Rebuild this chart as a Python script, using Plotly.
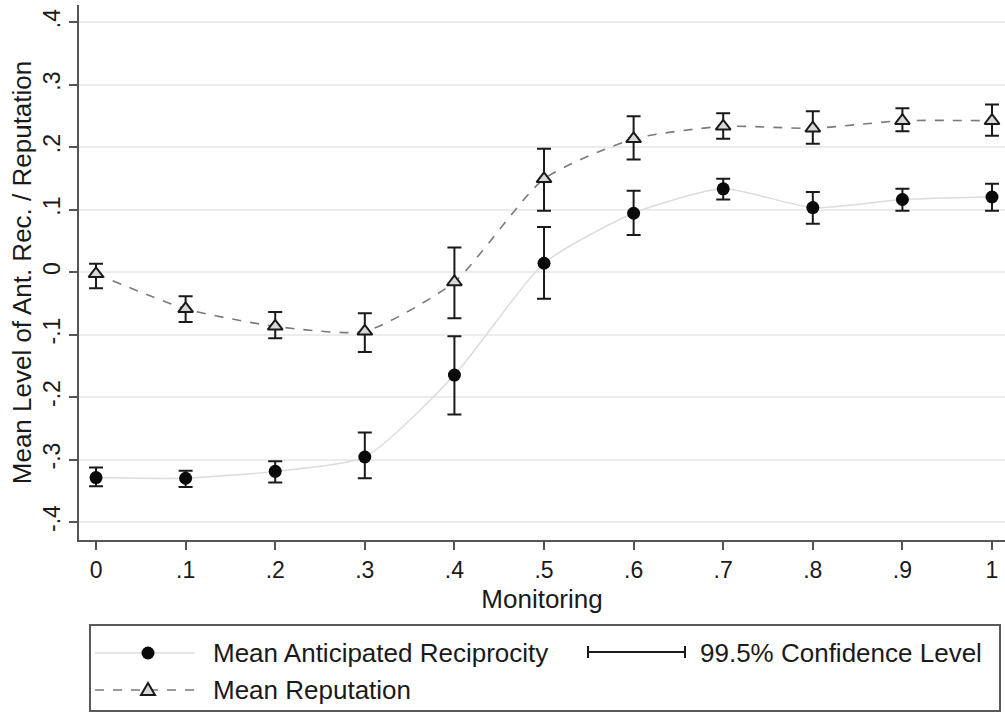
import plotly.graph_objects as go

# ---- data ----
monitoring = [0, 0.1, 0.2, 0.3, 0.4, 0.5, 0.6, 0.7, 0.8, 0.9, 1.0]

recip_mean = [-0.329, -0.330, -0.319, -0.296, -0.165, 0.014, 0.094, 0.133, 0.103, 0.116, 0.120]
recip_lo = [-0.343, -0.344, -0.337, -0.330, -0.228, -0.043, 0.059, 0.116, 0.077, 0.098, 0.098]
recip_hi = [-0.313, -0.318, -0.303, -0.257, -0.103, 0.072, 0.130, 0.149, 0.128, 0.133, 0.141]

rep_mean = [-0.003, -0.059, -0.087, -0.095, -0.016, 0.149, 0.213, 0.233, 0.230, 0.242, 0.242]
rep_lo = [-0.026, -0.080, -0.106, -0.128, -0.074, 0.098, 0.180, 0.213, 0.205, 0.225, 0.218]
rep_hi = [0.013, -0.039, -0.064, -0.066, 0.039, 0.197, 0.249, 0.254, 0.257, 0.262, 0.268]

x_tickvals = [0, 0.1, 0.2, 0.3, 0.4, 0.5, 0.6, 0.7, 0.8, 0.9, 1.0]
x_ticktext = ["0", ".1", ".2", ".3", ".4", ".5", ".6", ".7", ".8", ".9", "1"]
y_tickvals = [-0.4, -0.3, -0.2, -0.1, 0, 0.1, 0.2, 0.3, 0.4]
y_ticktext = ["-.4", "-.3", "-.2", "-.1", "0", ".1", ".2", ".3", ".4"]

legend_labels = ["Mean Anticipated Reciprocity", "99.5% Confidence Level", "Mean Reputation"]

FONT = "Liberation Sans, Arial, Helvetica, sans-serif"
W, H = 1005, 717
ML, MR, MT, MB = 79, 0, 5, 177

fig = go.Figure()

err_style = dict(color="#1a1a1a", thickness=2, width=7)

fig.add_trace(go.Scatter(
    x=monitoring, y=recip_mean, mode="lines+markers",
    line=dict(color="#dcdcdc", width=1.5, shape="spline", smoothing=0.6),
    marker=dict(symbol="circle", size=13, color="#0a0a0a"),
    error_y=dict(type="data", symmetric=False,
                 array=[h - m for h, m in zip(recip_hi, recip_mean)],
                 arrayminus=[m - l for m, l in zip(recip_mean, recip_lo)],
                 **err_style),
    name=legend_labels[0], showlegend=False,
))

fig.add_trace(go.Scatter(
    x=monitoring, y=rep_mean, mode="lines+markers",
    line=dict(color="#7a7a7a", width=1.6, dash="dash", shape="spline", smoothing=0.6),
    marker=dict(symbol="triangle-up", size=13, color="#d8d8d8",
                line=dict(color="#1a1a1a", width=2)),
    error_y=dict(type="data", symmetric=False,
                 array=[h - m for h, m in zip(rep_hi, rep_mean)],
                 arrayminus=[m - l for m, l in zip(rep_mean, rep_lo)],
                 **err_style),
    name=legend_labels[2], showlegend=False,
))

# ---- pixel -> paper helpers for the hand-drawn legend ----
PW = W - ML - MR
PH = H - MT - MB


def px(xp):
    return (xp - ML) / PW


def py(yp):
    return (H - MB - yp) / PH


shapes = []
annotations = []

# legend box
shapes.append(dict(type="rect", xref="paper", yref="paper",
                   x0=px(90), x1=px(1000), y0=py(711), y1=py(625),
                   line=dict(color="#5a5a5a", width=2), fillcolor="white", layer="below"))

row1, row2 = 653, 690
# reciprocity symbol
shapes.append(dict(type="line", xref="paper", yref="paper",
                   x0=px(95), x1=px(195), y0=py(row1), y1=py(row1),
                   line=dict(color="#dcdcdc", width=1.5)))
shapes.append(dict(type="circle", xref="paper", yref="paper",
                   x0=px(148 - 6.5), x1=px(148 + 6.5), y0=py(row1 + 6.5), y1=py(row1 - 6.5),
                   fillcolor="#0a0a0a", line=dict(color="#0a0a0a", width=0)))
# reputation symbol
shapes.append(dict(type="line", xref="paper", yref="paper",
                   x0=px(95), x1=px(195), y0=py(row2), y1=py(row2),
                   line=dict(color="#7a7a7a", width=1.6, dash="dash")))
tri = "M {} {} L {} {} L {} {} Z".format(px(141), py(row2 + 5), px(155), py(row2 + 5),
                                         px(148), py(row2 - 7))
shapes.append(dict(type="path", xref="paper", yref="paper", path=tri,
                   fillcolor="#d8d8d8", line=dict(color="#1a1a1a", width=2)))
# confidence-interval symbol
shapes.append(dict(type="line", xref="paper", yref="paper",
                   x0=px(588), x1=px(685), y0=py(652), y1=py(652),
                   line=dict(color="#1a1a1a", width=2)))
for xc in (588, 685):
    shapes.append(dict(type="line", xref="paper", yref="paper",
                       x0=px(xc), x1=px(xc), y0=py(646), y1=py(658),
                       line=dict(color="#1a1a1a", width=2)))

for text, xp, yp in [(legend_labels[0], 211, row1), (legend_labels[1], 698, row1),
                     (legend_labels[2], 211, row2)]:
    annotations.append(dict(text=text, xref="paper", yref="paper", x=px(xp), y=py(yp),
                            xanchor="left", yanchor="middle", showarrow=False,
                            font=dict(family=FONT, size=26, color="#1a1a1a")))

fig.update_layout(
    width=W, height=H,
    margin=dict(l=ML, r=MR, t=MT, b=MB, autoexpand=False),
    paper_bgcolor="white", plot_bgcolor="white",
    font=dict(family=FONT, color="#1a1a1a"),
    showlegend=False,
    shapes=shapes, annotations=annotations,
    xaxis=dict(range=[-0.019, 1.0145], tickvals=x_tickvals, ticktext=x_ticktext,
               automargin=False,
               showgrid=False, zeroline=False, showline=True, linecolor="#555", linewidth=2,
               ticks="outside", ticklen=8, tickwidth=1.5, tickcolor="#555",
               tickfont=dict(size=23, family=FONT),
               title=dict(text="Monitoring", font=dict(size=26, family=FONT), standoff=8)),
    yaxis=dict(range=[-0.4288, 0.4272], tickvals=y_tickvals, ticktext=y_ticktext,
               tickangle=-90, automargin=False,
               showgrid=True, gridcolor="#ececec", gridwidth=1.5,
               zeroline=False, showline=True, linecolor="#555", linewidth=2,
               ticks="outside", ticklen=8, tickwidth=1.5, tickcolor="#555",
               tickfont=dict(size=23, family=FONT),
               title=dict(text="Mean Level of Ant. Rec. / Reputation",
                          font=dict(size=26, family=FONT), standoff=0)),
)

fig.write_html("out.html",
               config={"displayModeBar": False},
               post_script="document.body.style.margin='0';document.body.style.overflow='hidden';")
